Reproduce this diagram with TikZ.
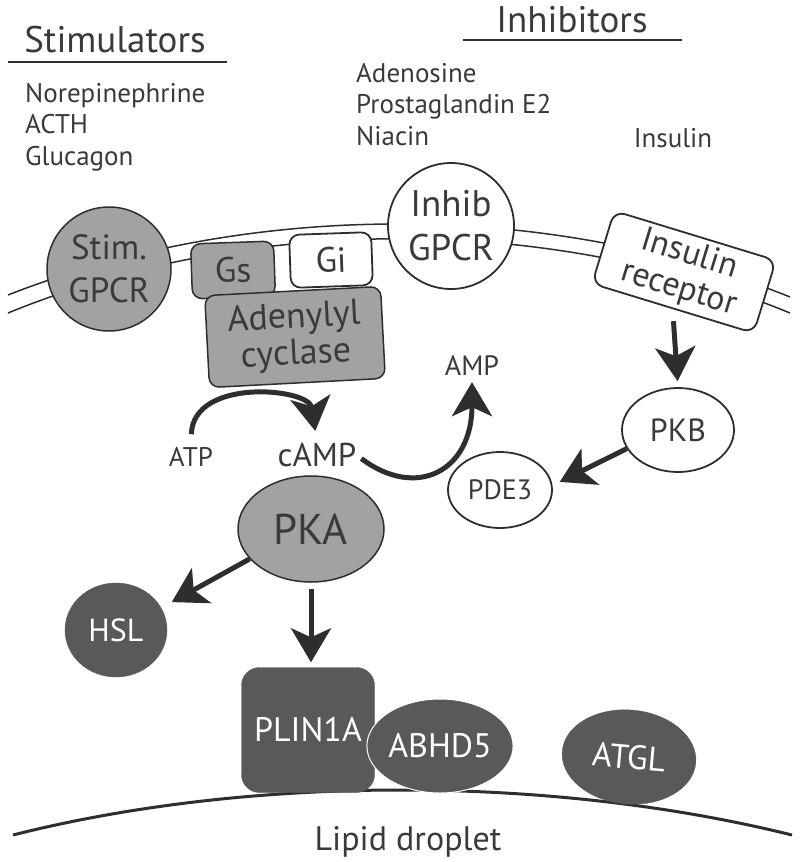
\documentclass[tikz,border=0pt]{standalone}
\usepackage{fontspec}
\setmainfont{PT Sans}
\usetikzlibrary{arrows.meta,shapes.geometric}
\definecolor{ink}{HTML}{2E2E2E}
\definecolor{txtc}{HTML}{3A3A3A}
\definecolor{lightg}{HTML}{A2A2A2}
\definecolor{darkg}{HTML}{58595B}
\tikzset{
  txt/.style={text=txtc, inner sep=0pt},
  gnode/.style={fill=lightg, draw=ink, line width=1.5pt, text=txtc, inner sep=0pt, align=center},
  wnode/.style={fill=white, draw=ink, line width=1.8pt, text=txtc, inner sep=0pt, align=center},
  dnode/.style={fill=darkg, draw=darkg, text=white, inner sep=0pt, align=center},
  ell/.style={ellipse, inner sep=0pt},
  arr/.style={draw=ink, line width=5pt, -{Stealth[length=34pt,width=40pt,inset=9pt]}},
  membr/.style={draw=ink, line width=1.5pt},
  body/.style={txt, font=\fontsize{27}{32}\selectfont},
}
\begin{document}
\begin{tikzpicture}[x=1pt,y=-1pt]
\useasboundingbox (0,0) rectangle (800,862);
\fill[white] (0,0) rectangle (800,862);

% headings
\node[txt, anchor=base, font=\fontsize{37}{42}\selectfont] (stimh) at (115,52) {Stimulators};
\draw[ink, line width=2.5pt] (8,62) -- (227,62);
\node[txt, anchor=base, font=\fontsize{37}{42}\selectfont] (inhh) at (572,32) {Inhibitors};
\draw[ink, line width=2.5pt] (463,40) -- (682,40);

% ligands
\node[body, anchor=base west] (nor) at (25,102) {Norepinephrine};
\node[body, anchor=base west] (acth) at (25,133) {ACTH};
\node[body, anchor=base west] (glu) at (25,165) {Glucagon};
\node[body, anchor=base west] (ade) at (356,82) {Adenosine};
\node[body, anchor=base west] (pge) at (356,113) {Prostaglandin E2};
\node[body, anchor=base west] (nia) at (356,145) {Niacin};
\node[body, anchor=base] (ins) at (673,147) {Insulin};

% membrane
\draw[membr] (8,295) .. controls (250,200) and (550,200) .. (790,297);
\draw[membr] (8,313) .. controls (250,214) and (550,214) .. (790,313);

% membrane proteins
\node[gnode, circle, minimum size=124pt, font=\fontsize{35}{43}\selectfont] (sgpcr) at (109,269) {Stim.\\GPCR};
\node[wnode, circle, minimum size=126pt, font=\fontsize{37}{44}\selectfont] (igpcr) at (451,226) {Inhib\\GPCR};
\node[wnode, rectangle, rounded corners=11pt, minimum width=169pt, minimum height=76pt, rotate=-17, font=\fontsize{34}{36}\selectfont] (ir) at (684,272) {Insulin\\receptor};
\node[gnode, rectangle, rounded corners=10pt, minimum width=83pt, minimum height=55pt, rotate=2, font=\fontsize{35}{40}\selectfont] (gs) at (233,270) {Gs};
\node[wnode, rectangle, rounded corners=10pt, minimum width=82pt, minimum height=53pt, rotate=2, font=\fontsize{35}{40}\selectfont] (gi) at (331,260) {Gi};
\node[gnode, rectangle, rounded corners=10pt, minimum width=176pt, minimum height=92pt, rotate=3, font=\fontsize{36}{37}\selectfont] (ac) at (295,337) {Adenylyl\\cyclase};

% small molecules
\node[txt, font=\fontsize{27}{30}\selectfont] (atp) at (191,457) {ATP};
\node[txt, font=\fontsize{33}{36}\selectfont] (camp) at (317,455) {cAMP};
\node[txt, font=\fontsize{28}{30}\selectfont] (amp) at (472,366) {AMP};

% cytosolic proteins
\node[wnode, ell, minimum width=112pt, minimum height=84pt, font=\fontsize{32}{36}\selectfont] (pkb) at (678,430) {PKB};
\node[wnode, ell, minimum width=104pt, minimum height=76pt, font=\fontsize{28}{32}\selectfont] (pde) at (500,490) {PDE3};
\node[gnode, ell, minimum width=146pt, minimum height=106pt, font=\fontsize{43}{48}\selectfont] (pka) at (311,529) {PKA};
\node[dnode, ell, minimum width=102pt, minimum height=94pt, font=\fontsize{32}{36}\selectfont] (hsl) at (116,630) {HSL};

% lipid droplet
\draw[ink, line width=3pt] (13,835) .. controls (250,775) and (550,775) .. (792,835);
\node[dnode, rectangle, rounded corners=18pt, minimum width=133pt, minimum height=125pt, font=\fontsize{34}{38}\selectfont] (plin) at (308,730) {PLIN1A};
\node[dnode, ell, draw=white, line width=1pt, minimum width=136pt, minimum height=94pt, font=\fontsize{34}{38}\selectfont] (abhd) at (440,746) {ABHD5};
\node[dnode, ell, minimum width=134pt, minimum height=94pt, rotate=-5, font=\fontsize{34}{38}\selectfont] (atgl) at (629,757) {ATGL};
\node[txt, anchor=base, font=\fontsize{34}{38}\selectfont] (lipid) at (408,850) {Lipid droplet};

% arrows
\draw[arr, shorten <=13pt, shorten >=12pt] (atp.north) .. controls +(2,-70) and +(-8,-55) .. (camp.north);
\draw[arr, shorten <=6pt, shorten >=6pt] (camp.east) .. controls +(60,45) and +(0,95) .. (amp.south);
\draw[arr, shorten <=12pt, shorten >=6pt] (ir.south) -- (pkb.north);
\draw[arr, shorten >=8pt] (pkb.200) -- (pde.5);
\draw[arr, shorten >=12pt] (pka.206) -- (hsl.26);
\draw[arr, shorten <=6pt, shorten >=5pt] (pka.south) -- (pka.south |- plin.north);
\end{tikzpicture}
\end{document}
